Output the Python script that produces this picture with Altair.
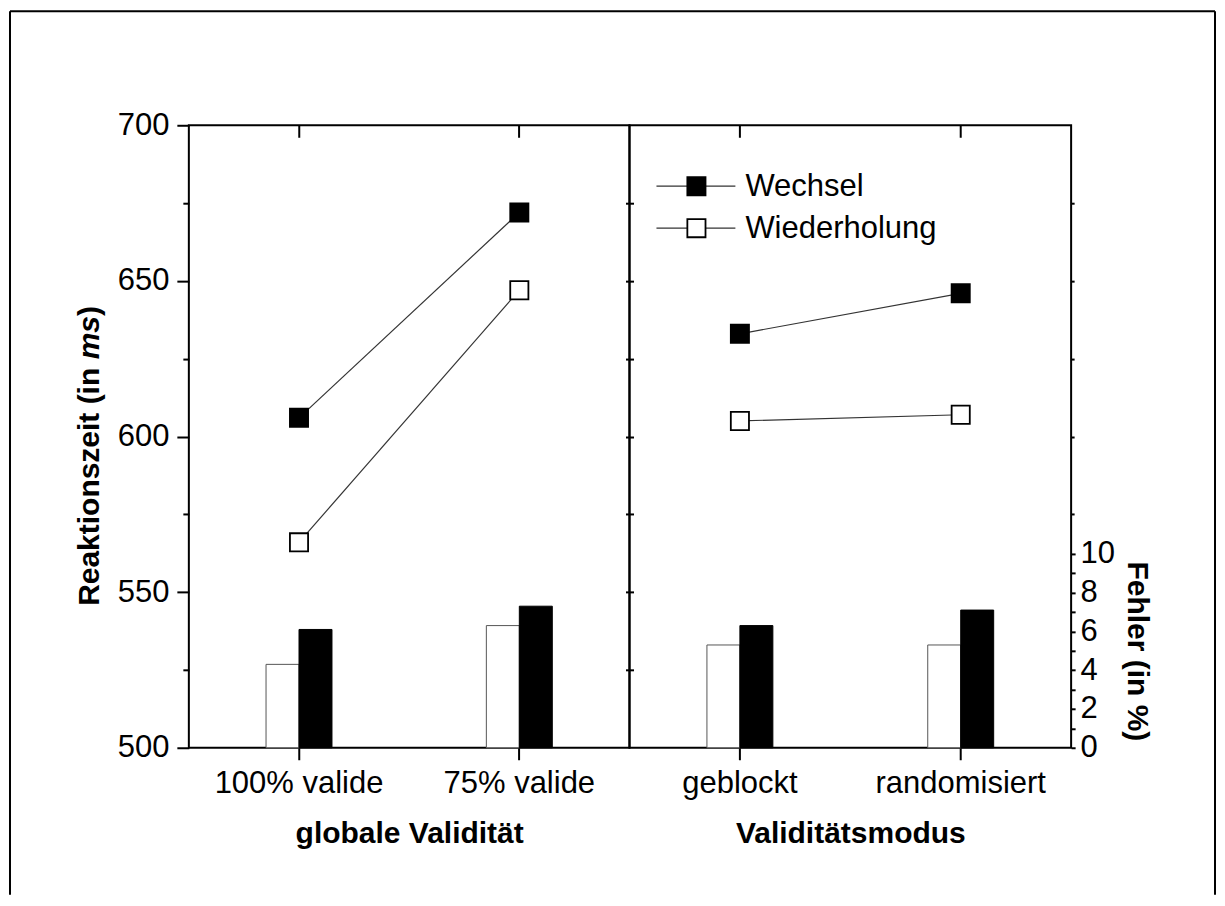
import altair as alt
import pandas as pd

# ---------------- data ----------------
panel_titles = ["globale Validität", "Validitätsmodus"]
cats_left = ["100% valide", "75% valide"]
cats_right = ["geblockt", "randomisiert"]
series = ["Wechsel", "Wiederholung"]

rt_wechsel = [606, 672, 633, 646]
rt_wiederholung = [566, 647, 605, 607]
err_wechsel = [6.1, 7.3, 6.3, 7.1]
err_wiederholung = [4.3, 6.3, 5.3, 5.3]

rt_major = [500, 550, 600, 650, 700]
rt_minor = [525, 575, 625, 675]
rt_mid = [525, 550, 575, 600, 625, 650, 675]
rt_upper = [575, 600, 625, 650, 675]
err_ticks = list(range(0, 11))

cats_all = cats_left + cats_right
panel_of = [panel_titles[0]] * 2 + [panel_titles[1]] * 2

rows = []
for i, c in enumerate(cats_all):
    rows.append(dict(panel=panel_of[i], category=c, series="Wechsel",
                     rt=rt_wechsel[i], err=err_wechsel[i]))
    rows.append(dict(panel=panel_of[i], category=c, series="Wiederholung",
                     rt=rt_wiederholung[i], err=err_wiederholung[i]))
df = pd.DataFrame(rows)
legend_df = pd.DataFrame({"series": series})
one = pd.DataFrame({"k": [0]})

FONT = "Liberation Sans"
FS = 30      # bold titles
LFS = 31     # labels / legend
BAR_W = 33
fill_scale = alt.Scale(domain=series, range=["black", "white"])
rt_scale = alt.Scale(domain=[500, 700], nice=False, zero=False)
err_scale = alt.Scale(domain=[0, 32.1], nice=False, zero=True)


def small_axis(orient, values, size):
    return alt.Axis(orient=orient, values=values, tickSize=size, labels=False,
                    title=None, domain=False, grid=False)


def panel(idx, cats, width, is_left):
    data = df[df.panel == panel_titles[idx]]
    xs = alt.Scale(domain=cats, paddingInner=0, paddingOuter=0)
    base = alt.Chart(data)

    bottom_axis = alt.Axis(orient="bottom", tickSize=12, labelPadding=9, labelAngle=0,
                           title=panel_titles[idx], titleY=95, titleBaseline="alphabetic",
                           titleFontWeight="bold")
    top_axis = alt.Axis(orient="top", offset=-12, tickSize=12, labels=False,
                        title=None, domain=False)

    if is_left:
        err_axis = None
        line_axis = alt.Axis(orient="left", values=rt_major, tickSize=12, labelPadding=8,
                             title=None, labelOverlap=False)
        point_axis = small_axis("left", rt_minor, 6)
    else:
        err_axis = alt.Axis(orient="right", values=err_ticks, tickSize=4, labelPadding=5,
                            labelOverlap=False,
                            labelExpr="datum.value % 2 == 0 ? datum.label : ''",
                            title="Fehler (in %)", titleAngle=90, titleX=56, titleY=526,
                            titleAlign="center", titleBaseline="alphabetic",
                            titleFontWeight="bold")
        line_axis = small_axis("left", rt_mid, 4)
        point_axis = small_axis("right", rt_upper, 3)

    bars_wdh = base.transform_filter(alt.datum.series == "Wiederholung").mark_bar(
        stroke="#555", strokeWidth=1, width=BAR_W, xOffset=-BAR_W / 2).encode(
        x=alt.X("category:N", scale=xs, axis=bottom_axis),
        y=alt.Y("err:Q", scale=err_scale, axis=err_axis),
        fill=alt.Fill("series:N", scale=fill_scale, legend=None),
    )
    bars_wch = base.transform_filter(alt.datum.series == "Wechsel").mark_bar(
        stroke="black", strokeWidth=1, width=BAR_W, xOffset=BAR_W / 2).encode(
        x=alt.X("category:N", scale=xs, axis=None),
        y=alt.Y("err:Q", scale=err_scale, axis=None),
        fill=alt.Fill("series:N", scale=fill_scale, legend=None),
    )
    lines = base.mark_line(color="#333", strokeWidth=1.2).encode(
        x=alt.X("category:N", scale=xs, axis=None),
        y=alt.Y("rt:Q", scale=rt_scale, axis=line_axis),
        detail="series:N",
    )
    points = base.mark_square(size=330, stroke="black", strokeWidth=1.8, opacity=1).encode(
        x=alt.X("category:N", scale=xs, axis=top_axis),
        y=alt.Y("rt:Q", scale=rt_scale, axis=point_axis),
        fill=alt.Fill("series:N", scale=fill_scale, legend=None),
    )
    layers = [bars_wdh, bars_wch, lines, points]

    if is_left:
        ghost = base.mark_point(opacity=0).encode(
            x=alt.X("category:N", scale=xs, axis=None),
            y=alt.Y("rt:Q", scale=rt_scale, axis=small_axis("right", rt_mid, 4)),
        )
        layers.append(ghost)
        # y-axis title with italic "ms"
        tstyle = dict(angle=270, align="left", baseline="alphabetic", fontSize=FS,
                      fontWeight="bold", font=FONT, color="black")
        y0 = 481
        w1 = 8.224 * FS
        w2 = 1.445 * FS
        t1 = alt.Chart(one).mark_text(text="Reaktionszeit (in", **tstyle).encode(
            x=alt.value(-90), y=alt.value(y0))
        t2 = alt.Chart(one).mark_text(text="ms", fontStyle="italic", **tstyle).encode(
            x=alt.value(-90), y=alt.value(y0 - w1))
        t3 = alt.Chart(one).mark_text(text=")", **tstyle).encode(
            x=alt.value(-90), y=alt.value(y0 - w1 - w2))
        # outer frame
        fr = dict(color="black", strokeWidth=2)
        f_top = alt.Chart(one).mark_rule(**fr).encode(
            x=alt.value(-179), x2=alt.value(1027), y=alt.value(-114))
        f_left = alt.Chart(one).mark_rule(**fr).encode(
            x=alt.value(-179), y=alt.value(-114), y2=alt.value(770))
        f_right = alt.Chart(one).mark_rule(**fr).encode(
            x=alt.value(1027), y=alt.value(-114), y2=alt.value(770))
        layers += [t1, t2, t3, f_top, f_left, f_right]
    else:
        leg_y = alt.Y("series:N", axis=None,
                      scale=alt.Scale(type="point", domain=series, range=[61, 103], padding=0))
        leg_rule = alt.Chart(legend_df).mark_rule(color="#333", strokeWidth=1.3).encode(
            x=alt.value(27), x2=alt.value(106), y=leg_y)
        leg_sq = alt.Chart(legend_df).mark_square(size=330, stroke="black", strokeWidth=1.8,
                                                  opacity=1).encode(
            x=alt.value(67), y=leg_y,
            fill=alt.Fill("series:N", scale=fill_scale, legend=None))
        leg_text = alt.Chart(legend_df).mark_text(align="left", baseline="alphabetic", dy=10,
                                                  fontSize=LFS, font=FONT, color="black").encode(
            x=alt.value(116), y=leg_y, text="series:N")
        layers += [leg_rule, leg_sq, leg_text]

    return alt.layer(*layers).properties(width=width, height=623).resolve_scale(
        y="independent").resolve_axis(y="independent", x="independent")


left = panel(0, cats_left, 441, True)
right = panel(1, cats_right, 442, False)

chart = alt.hconcat(left, right, spacing=0, bounds="flush").properties(
    padding={"left": 0, "top": 1, "right": 0, "bottom": 0},
    background="white",
).configure_view(
    stroke="black", strokeWidth=2
).configure_axis(
    grid=False, domain=False, tickColor="black", tickWidth=2,
    labelColor="black", titleColor="black",
    labelFont=FONT, titleFont=FONT, labelFontSize=LFS, titleFontSize=FS,
)

chart.save("out.html", embed_options={"renderer": "svg", "actions": False})
